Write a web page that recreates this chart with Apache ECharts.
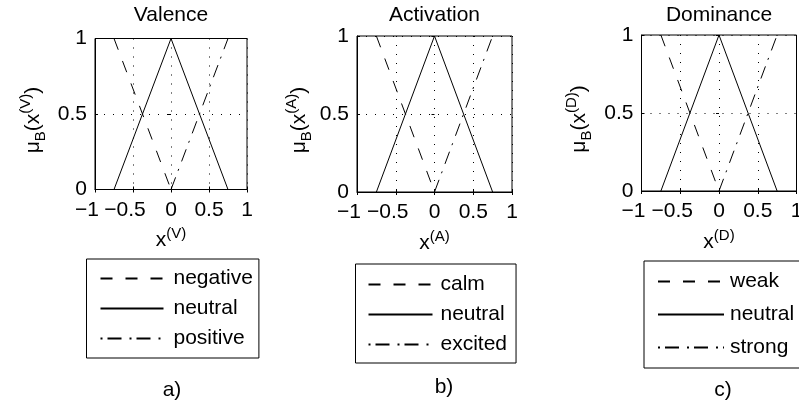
<!DOCTYPE html>
<html><head><meta charset="utf-8">
<script src="https://cdn.jsdelivr.net/npm/echarts@6/dist/echarts.min.js"></script>
<style>html,body{margin:0;padding:0;background:#fff}#c{width:799px;height:407px}</style>
</head><body><div id="c"></div>
<script>
// ---- data ----
const titles = ['Valence', 'Activation', 'Dominance'];
const symbols = ['V', 'A', 'D'];
const letters = ['a)', 'b)', 'c)'];
const lowNames = ['negative', 'calm', 'weak'];
const midNames = ['neutral', 'neutral', 'neutral'];
const highNames = ['positive', 'excited', 'strong'];
const lowX = [-0.75, 0], lowY = [1, 0];
const midX = [-0.75, 0, 0.75], midY = [0, 1, 0];
const highX = [0, 0.75], highY = [0, 1];
const xMin = -1, xMax = 1, xStep = 0.5;
const yMin = 0, yMax = 1, yStep = 0.5;

// ---- style / layout ----
const FONT = '"Liberation Sans", Arial, Helvetica, sans-serif';
const FS = 21;
const SFS = 15;
const BLACK = '#000';
const grids = [
  {left: 95, top: 38.5, width: 152, height: 151, yGap: 47, lblY: 390},
  {left: 357, top: 36, width: 155, height: 156, yGap: 43, lblY: 387},
  {left: 641.5, top: 35, width: 155, height: 156, yGap: 47, lblY: 390}
];
const legends = [
  {left: 86.5, top: 259, padding: [9, 6, 9, 13], itemWidth: 63, itemGap: 9, textPad: 5},
  {left: 355.5, top: 264, padding: [10, 9, 8, 12], itemWidth: 64, itemGap: 9, textPad: 3},
  {left: 644, top: 261, padding: [10, 16, 10, 13], itemWidth: 66, itemGap: 12, textPad: 1}
];
const letterX = [172, 444, 723];
const DASH = [12, 12];
const DASHDOT = [13, 7, 2, 8];
const DOT = [1, 8];

const pairs = (xs, ys) => xs.map((x, k) => [x, ys[k]]);
const base = {fontFamily: FONT, fontSize: FS, color: BLACK};

const option = {
  animation: false,
  backgroundColor: '#fff',
  grid: grids.map(g => ({left: g.left, top: g.top, width: g.width, height: g.height,
    show: true, borderColor: BLACK, borderWidth: 1, backgroundColor: 'transparent',
    containLabel: false, outerBoundsMode: 'none'})),
  xAxis: [],
  yAxis: [],
  series: [],
  legend: [],
  graphic: []
};

grids.forEach((g, i) => {
  option.xAxis.push({
    type: 'value', gridIndex: i, min: xMin, max: xMax, interval: xStep, position: 'bottom',
    axisLine: {show: true, onZero: false, lineStyle: {color: BLACK, width: 1}},
    axisTick: {show: true, inside: true, length: 3, lineStyle: {color: BLACK}},
    splitLine: {show: true, lineStyle: {color: BLACK, width: 1, type: DOT}},
    axisLabel: Object.assign({}, base, {margin: 10, showMinLabel: true, showMaxLabel: true,
      formatter: v => v < 0 ? '{n|\u2212' + Math.abs(v) + '}' : String(v),
      rich: {n: Object.assign({}, base, {padding: [0, 16, 0, 0]})}}),
    name: '{b|x}{s|(' + symbols[i] + ')}',
    nameLocation: 'middle', nameGap: 37,
    nameTextStyle: {rich: {
      b: Object.assign({}, base, {lineHeight: 28}),
      s: Object.assign({}, base, {fontSize: SFS, lineHeight: 15, verticalAlign: 'top'})
    }}
  });
  option.yAxis.push({
    type: 'value', gridIndex: i, min: yMin, max: yMax, interval: yStep, position: 'left',
    axisLine: {show: true, onZero: false, lineStyle: {color: BLACK, width: 1}},
    axisTick: {show: true, inside: true, length: 3, lineStyle: {color: BLACK}},
    splitLine: {show: true, lineStyle: {color: BLACK, width: 1, type: DOT}},
    axisLabel: Object.assign({}, base, {margin: 8, showMinLabel: true, showMaxLabel: true}),
    name: '{b|\u03bc}{d|B}{b|(x}{s|(' + symbols[i] + ')}{b|)}',
    nameLocation: 'middle', nameGap: g.yGap, nameRotate: 90,
    nameTextStyle: {padding: [0, 12, 0, 0], rich: {
      b: Object.assign({}, base, {lineHeight: 30}),
      s: Object.assign({}, base, {fontSize: SFS, lineHeight: 15, verticalAlign: 'top'}),
      d: Object.assign({}, base, {fontSize: SFS, lineHeight: 15, verticalAlign: 'bottom'})
    }}
  });
});
// mirrored ticks on top / right (box style)
grids.forEach((g, i) => {
  option.xAxis.push({type: 'value', gridIndex: i, min: xMin, max: xMax, interval: xStep, position: 'top',
    axisLine: {show: false}, axisLabel: {show: false}, splitLine: {show: false},
    axisTick: {show: true, inside: true, length: 3, lineStyle: {color: BLACK}}});
  option.yAxis.push({type: 'value', gridIndex: i, min: yMin, max: yMax, interval: yStep, position: 'right',
    axisLine: {show: false}, axisLabel: {show: false}, splitLine: {show: false},
    axisTick: {show: true, inside: true, length: 3, lineStyle: {color: BLACK}}});
});

grids.forEach((g, i) => {
  const common = {type: 'line', xAxisIndex: i, yAxisIndex: i, symbol: 'none', silent: true, clip: false};
  option.series.push(Object.assign({}, common, {name: lowNames[i], data: pairs(lowX, lowY),
    lineStyle: {color: BLACK, width: 1, type: DASH}, itemStyle: {color: BLACK}}));
  option.series.push(Object.assign({}, common, {name: midNames[i], data: pairs(midX, midY),
    lineStyle: {color: BLACK, width: 1, type: 'solid'}, itemStyle: {color: BLACK}}));
  option.series.push(Object.assign({}, common, {name: highNames[i], data: pairs(highX, highY),
    lineStyle: {color: BLACK, width: 1, type: DASHDOT}, itemStyle: {color: BLACK}}));

  const L = legends[i];
  option.legend.push({
    orient: 'vertical', left: L.left, top: L.top, padding: L.padding,
    itemWidth: L.itemWidth, itemHeight: 21, itemGap: L.itemGap,
    borderColor: BLACK, borderWidth: 1, backgroundColor: '#fff', selectedMode: false,
    itemStyle: {opacity: 0},
    textStyle: Object.assign({}, base, {lineHeight: 21, padding: [0, 0, 0, L.textPad]}),
    data: [
      {name: lowNames[i], lineStyle: {type: [12, 13]}},
      {name: midNames[i]},
      {name: highNames[i], lineStyle: {type: [2, 5, 14, 8]}}
    ]
  });

  option.graphic.push({type: 'text', silent: true,
    style: {text: titles[i], x: g.left + g.width / 2, y: 15,
      align: 'center', verticalAlign: 'middle', font: FS + 'px ' + FONT, fill: BLACK}});
  option.graphic.push({type: 'text', silent: true,
    style: {text: letters[i], x: letterX[i], y: g.lblY,
      align: 'center', verticalAlign: 'middle', font: FS + 'px ' + FONT, fill: BLACK}});
});

const chart = echarts.init(document.getElementById('c'), null, {renderer: 'canvas'});
chart.setOption(option);
</script>
</body></html>
